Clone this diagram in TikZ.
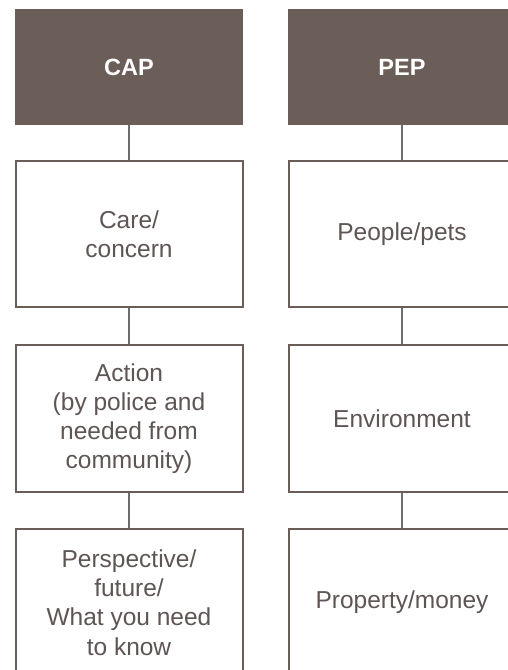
\documentclass[tikz,border=0pt]{standalone}
\usepackage{fontspec}
\setmainfont{Liberation Sans}
\definecolor{hdr}{HTML}{6B5D58}
\definecolor{edge}{HTML}{6B5D58}
\definecolor{conn}{HTML}{6F6C70}
\definecolor{txt}{HTML}{5E5554}
\tikzset{
  header/.style={fill=hdr, draw=none, minimum width=228pt, minimum height=116pt, inner sep=0pt,
    text=white, font=\fontsize{23.5}{28}\selectfont\bfseries},
  itembox/.style={draw=edge, line width=2pt, fill=white, minimum width=227pt, minimum height=146pt,
    inner sep=0pt, align=center, text=txt, font=\fontsize{24.5}{29.2}\selectfont},
  link/.style={draw=conn, line width=2pt}
}
\begin{document}
\begin{tikzpicture}[x=1pt,y=-1pt]
\useasboundingbox (0,0) rectangle (508,670);
\clip (0,0) rectangle (508,670);
% left column
\node[header] (cap) at (129,67) {CAP};
\node[itembox] (care) at (129,234) {Care/\\concern};
\node[itembox, minimum height=147pt] (action) at (129,418.5) {Action\\(by police and\\needed from\\community)};
\node[itembox, minimum height=147pt] (persp) at (129,602.5) {Perspective/\\future/\\What you need\\to know};
% right column
\node[header] (pep) at (402,67) {PEP};
\node[itembox] (people) at (402,234) {People/pets};
\node[itembox, minimum height=147pt] (env) at (402,418.5) {Environment};
\node[itembox, minimum height=147pt] (prop) at (402,602.5) {Property/money};
% connectors
\draw[link] (cap.south) -- (care.north);
\draw[link] (care.south) -- (action.north);
\draw[link] (action.south) -- (persp.north);
\draw[link] (pep.south) -- (people.north);
\draw[link] (people.south) -- (env.north);
\draw[link] (env.south) -- (prop.north);
\end{tikzpicture}
\end{document}
